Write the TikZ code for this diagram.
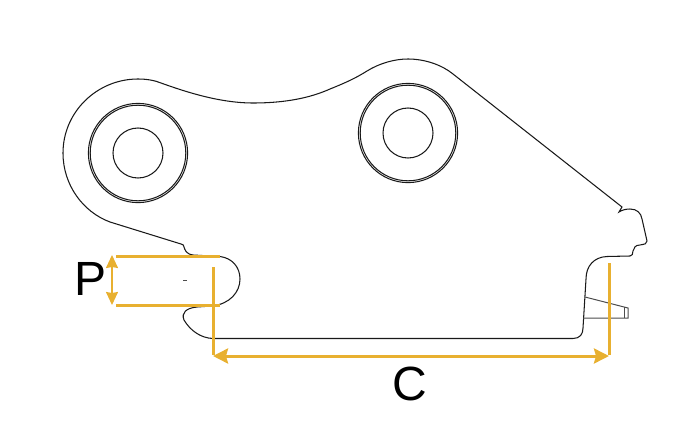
\documentclass[tikz,border=0pt]{standalone}
\usepackage{fontspec}
\setmainfont{Liberation Sans}
\usetikzlibrary{arrows.meta}
\definecolor{dimgold}{RGB}{232,176,48}

\begin{document}
\begin{tikzpicture}[x=1pt,y=-1pt,
  outline/.style={black!90, line width=1.05pt},
  thin part/.style={black!70, line width=1pt},
  dimline/.style={dimgold, line width=3pt},
  dimarrow/.style={dimgold, line width=3pt, {Stealth[length=15pt,width=15pt,inset=2pt]}-{Stealth[length=15pt,width=15pt,inset=2pt]}},
  pitcharrow/.style={dimgold, line width=1.6pt, {Stealth[length=13pt,width=12pt,inset=1pt]}-{Stealth[length=13pt,width=12pt,inset=1pt]}},
  dimlabel/.style={black, font=\fontsize{48}{48}\selectfont, inner sep=0pt}]
\useasboundingbox (0,0) rectangle (696,444);
% body
\draw[outline] (138,79) .. controls (147,79) and (155,80.5) .. (161,83)
  .. controls (186,92) and (220,103) .. (253,103)
  .. controls (285,103) and (310,98) .. (330,89)
  .. controls (345,83) and (356,78) .. (367,71)
  .. controls (380,63) and (395,59) .. (408,59)
  .. controls (425,59) and (442,65) .. (453,74)
  -- (622,207) -- (619,212)
  .. controls (622,210) and (626,209) .. (630,209)
  .. controls (637,209) and (641,213) .. (642,219)
  -- (647,241) .. controls (647,244) and (645,244) .. (640,245)
  .. controls (635,245) and (634,248) .. (633,251)
  .. controls (633,254) and (632,256) .. (630,256)
  -- (607,256.5) .. controls (594,257) and (586,266) .. (586,279)
  -- (583,328) .. controls (583,334) and (580,338.5) .. (573,338.5)
  -- (213,338.5) .. controls (200,338) and (190,330) .. (184,320)
  .. controls (181,313) and (186,308) .. (197,307)
  -- (212,306) .. controls (230,304) and (240,292) .. (240,279)
  .. controls (240,267) and (232,258) .. (220,256.5)
  -- (193,255) .. controls (186,254) and (185,250) .. (184,247)
  .. controls (184,245) and (183,244.5) .. (181,244)
  -- (110,222) .. controls (83,212) and (63,185) .. (63,153)
  .. controls (63,112) and (97,79) .. (138,79) -- cycle;
% bushes
\draw[outline] (138,153) circle [radius=25];
\draw[outline] (138,153) circle [radius=49.6];
\draw[outline] (138,153) circle [radius=47.8];
\draw[outline] (408,133) circle [radius=25];
\draw[outline] (408,133) circle [radius=49.6];
\draw[outline] (408,133) circle [radius=47.8];
% wedge
\draw[thin part] (585,297) -- (628,308) -- (628,318) -- (583,318);
\draw[thin part] (624,307) -- (624,318);
\draw[thin part] (183,280.5) -- (187,280.5);
% dimensions
\coordinate (pa) at (112,255);
\coordinate (pb) at (112,305);
\coordinate (ca) at (213,356);
\coordinate (cb) at (609,356);
\draw[dimline] (116,256.5) -- (220,256.5);
\draw[dimline] (116,305) -- (220,305);
\draw[dimline] (213.5,267) -- (213.5,355);
\draw[dimline] (609,263) -- (609,355);
\draw[dimarrow] (ca) -- (cb);
\draw[pitcharrow] (pa) -- (pb);
\node[dimlabel] (plabel) at (91,279) {P};
\node[dimlabel] (clabel) at (410,384) {C};
\end{tikzpicture}
\end{document}
